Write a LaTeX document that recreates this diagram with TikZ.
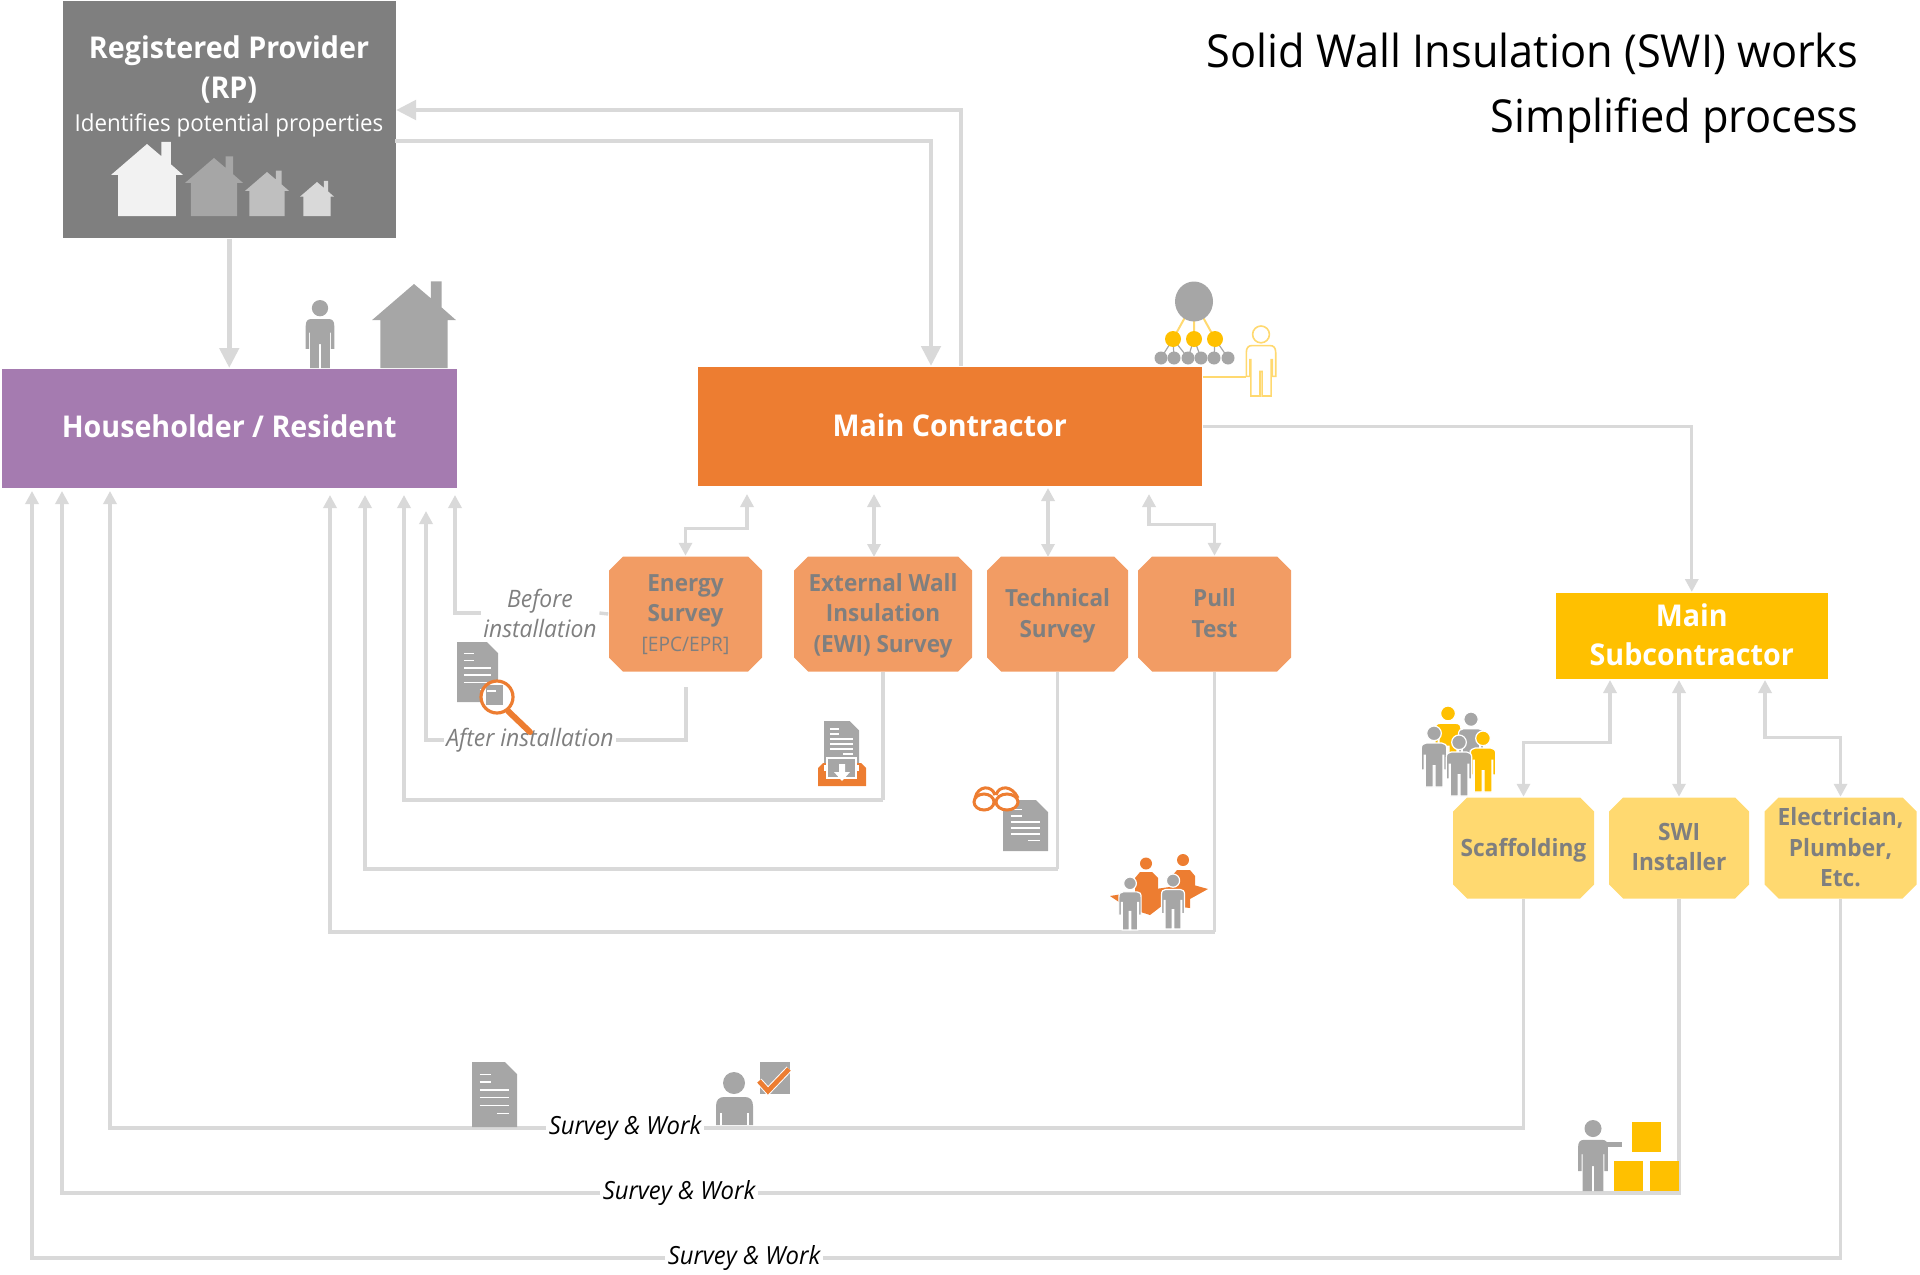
\documentclass[tikz,border=0pt]{standalone}
\usepackage{fontspec}
\setmainfont{Open Sans}[FakeStretch=0.955]
\usetikzlibrary{arrows.meta,shapes.misc}

\definecolor{rpgrey}{HTML}{7F7F7F}
\definecolor{hhpurple}{HTML}{A57BB0}
\definecolor{mcorange}{HTML}{ED7D31}
\definecolor{surveyorange}{HTML}{F29C64}
\definecolor{subyellow}{HTML}{FFC000}
\definecolor{tradeyellow}{HTML}{FFD970}
\definecolor{linegrey}{HTML}{D9D9D9}
\definecolor{icongrey}{HTML}{A6A6A6}

\tikzset{
  every picture/.style={line width=0.75pt},
  mainbox/.style={rectangle,inner sep=0pt,text=white,align=center,anchor=north west,font=\fontsize{15}{18}\selectfont\bfseries},
  octbox/.style={chamfered rectangle,chamfered rectangle xsep=3.5pt,chamfered rectangle ysep=3.5pt,inner sep=0pt,align=center,text depth=1pt,text=rpgrey,font=\fontsize{11.8}{15.2}\selectfont\bfseries},
  heavyline/.style={draw=linegrey,line width=2.4pt,-{Triangle[width=9.5pt,length=10pt]}},
  lightline/.style={draw=linegrey,line width=1.7pt},
  headend/.style={lightline,-{Triangle[width=6.5pt,length=6.5pt]}},
  bothend/.style={lightline,{Triangle[width=6.5pt,length=6.5pt]}-{Triangle[width=6.5pt,length=6.5pt]}},
  greylabel/.style={inner sep=1pt,align=center,text=rpgrey,font=\fontsize{12}{15}\selectfont\itshape},
  worklabel/.style={inner sep=1pt,text=black,font=\fontsize{12.5}{15}\selectfont\itshape},
  whiteedge/.style={fill=#1,draw=white,line width=0.6pt},
}

% x, base, eaves width, colour
\newcommand{\housesym}[4]{
  \fill[#4,shift={(#1,#2)},scale=#3/100] (-40,0) -- (-40,-57) -- (-50,-57) -- (0,-100) -- (20,-83) -- (20,-103) -- (33,-103) -- (33,-72) -- (50,-57) -- (40,-57) -- (40,0) -- cycle;
}
% x, base, height, path options
\newcommand{\personsym}[4]{
  \path[#4,shift={(#1,#2)},scale=#3/100] (0,-88) circle (12);
  \path[#4,shift={(#1,#2)},scale=#3/100] (-21,-62) .. controls (-21,-69) and (-18,-72) .. (-13,-72) -- (13,-72) .. controls (18,-72) and (21,-69) .. (21,-62) -- (21,-28) -- (16,-28) -- (16,-52) -- (14.5,-52) -- (14.5,0) -- (1.5,0) -- (1.5,-35) -- (-1.5,-35) -- (-1.5,0) -- (-14.5,0) -- (-14.5,-52) -- (-16,-52) -- (-16,-28) -- (-21,-28) -- cycle;
}
% left, top, width, height
\newcommand{\docsym}[4]{
  \fill[icongrey] (#1,#2) -- ({#1+#3-0.27*#3},#2) -- ({#1+#3},{#2+0.27*#3}) -- ({#1+#3},{#2+#4}) -- (#1,{#2+#4}) -- cycle;
  \draw[white,line width=0.7pt] ({#1+0.17*#3},{#2+0.19*#4}) -- ({#1+0.42*#3},{#2+0.19*#4}) ({#1+0.17*#3},{#2+0.31*#4}) -- ({#1+0.42*#3},{#2+0.31*#4}) ({#1+0.17*#3},{#2+0.43*#4}) -- ({#1+0.82*#3},{#2+0.43*#4}) ({#1+0.17*#3},{#2+0.55*#4}) -- ({#1+0.82*#3},{#2+0.55*#4}) ({#1+0.17*#3},{#2+0.67*#4}) -- ({#1+0.82*#3},{#2+0.67*#4}) ({#1+0.55*#3},{#2+0.79*#4}) -- ({#1+0.82*#3},{#2+0.79*#4});
}

\begin{document}
\begin{tikzpicture}[x=0.5pt,y=0.5pt,yscale=-1,xscale=1]
\useasboundingbox (0,0) rectangle (1920,1274);

% Boxes
\node (rp) [mainbox,fill=rpgrey,minimum width=166.5pt,minimum height=118.5pt] at (62,0) {};
\node (hh) [mainbox,fill=hhpurple,minimum width=227.5pt,minimum height=59.5pt,text depth=1.8pt] at (1,368) {Householder / Resident};
\node (mc) [mainbox,fill=mcorange,minimum width=252pt,minimum height=59.5pt,text depth=1.2pt] at (697,366) {Main Contractor};
\node (sub) [mainbox,fill=subyellow,minimum width=136pt,minimum height=43pt,text depth=1.2pt,font=\fontsize{15}{19.5}\selectfont\bfseries] at (1555,592) {Main\\Subcontractor};

\node (energy) [octbox,fill=surveyorange,minimum width=76.5pt,minimum height=57.5pt] at (685.5,614) {Energy\\Survey\\{\normalfont\fontsize{10}{15.2}\selectfont [EPC/EPR]}};
\node (ewi) [octbox,fill=surveyorange,minimum width=89pt,minimum height=57.5pt] at (883,614) {External Wall\\Insulation\\(EWI) Survey};
\node (tech) [octbox,fill=surveyorange,minimum width=70.5pt,minimum height=57.5pt] at (1057.5,614) {Technical\\Survey};
\node (pull) [octbox,fill=surveyorange,minimum width=76.5pt,minimum height=57.5pt] at (1214.5,614) {Pull\\Test};
\node (scaff) [octbox,fill=tradeyellow,minimum width=70.5pt,minimum height=50.5pt,font=\fontsize{11.9}{15.2}\selectfont\bfseries] at (1523.5,848) {Scaffolding};
\node (swi) [octbox,fill=tradeyellow,minimum width=70pt,minimum height=50.5pt,font=\fontsize{11.9}{15.2}\selectfont\bfseries] at (1679,848) {SWI\\Installer};
\node (trade) [octbox,fill=tradeyellow,minimum width=76pt,minimum height=50.5pt,font=\fontsize{11.9}{15.2}\selectfont\bfseries] at (1840.5,848) {Electrician,\\Plumber,\\Etc.};

% Text Node
\node (rptitle) [text=white,align=center,font=\fontsize{15}{20}\selectfont\bfseries] at (229,69) {Registered Provider\\(RP)};
\node (rpsub) [text=white,font=\fontsize{11.7}{15}\selectfont] at (229,125) {Identifies potential properties};
\node (title) [anchor=north east,inner sep=0pt,align=right,text=black,font=\fontsize{22.7}{32.5}\selectfont] at (1859,32) {Solid Wall Insulation (SWI) works\\Simplified process};
\node (before) [greylabel] at (540,613) {Before\\installation};
\node (after) [greylabel] at (530,740) {After installation};
\node (work1) [worklabel] at (625,1128) {Survey \& Work};
\node (work2) [worklabel] at (679,1193) {Survey \& Work};
\node (work3) [worklabel] at (744,1258) {Survey \& Work};

% Connector ends
\coordinate (rpin) at (396,110);
\coordinate (rpout) at (395,141);
\coordinate (mcin) at (931,366);
\coordinate (mcout) at (961,366);
\coordinate (mcenergy) at (747,494);
\coordinate (mcewi) at (874,494);
\coordinate (mctech) at (1048,488);
\coordinate (mcpull) at (1149,494);
\coordinate (ewitop) at (874,557);
\coordinate (techtop) at (1048,557);
\coordinate (energyoff) at (686,687);
\coordinate (hhbefore) at (455,495);
\coordinate (hhafter) at (426,511);
\coordinate (hhewi) at (404,495);
\coordinate (hhtech) at (365,495);
\coordinate (hhpull) at (330,495);
\coordinate (hhscaff) at (110,491);
\coordinate (hhswi) at (62,491);
\coordinate (hhtrade) at (32,491);
\coordinate (subscaff) at (1610,680);
\coordinate (subswi) at (1679,680);
\coordinate (subtrade) at (1765,680);
\coordinate (ewibend) at (883,800);
\coordinate (techbend) at (1057.5,869);
\coordinate (pullbend) at (1214.5,932);

%Straight Lines
\draw[heavyline] (rp.south) -- (hh.north);
\draw[heavyline] (mcout) |- (rpin);
\draw[heavyline] (rpout) -| (mcin);
\draw[headend] (mc.east) -| (sub.north);
\draw[bothend] (energy.north) -- ++(0,-27) -| (mcenergy);
\draw[bothend] (ewitop) -- (mcewi);
\draw[bothend] (techtop) -- (mctech);
\draw[bothend] (pull.north) -- ++(0,-31) -| (mcpull);
\draw[bothend] (scaff.north) -- ++(0,-54) -| (subscaff);
\draw[bothend] (swi.north) -- (subswi);
\draw[bothend] (trade.north) -- ++(0,-59) -| (subtrade);
\draw[lightline] (energy.west) -- (before.east);
\draw[headend] (before.west) -| (hhbefore);
\draw[lightline] (energyoff) |- (after.east);
\draw[headend] (after.west) -| (hhafter);
\draw[lightline] (ewi.south) -- (ewibend);
\draw[headend] (ewibend) -| (hhewi);
\draw[lightline] (tech.south) -- (techbend);
\draw[headend] (techbend) -| (hhtech);
\draw[lightline] (pull.south) -- (pullbend);
\draw[headend] (pullbend) -| (hhpull);
\draw[lightline] (scaff.south) |- (work1.east);
\draw[headend] (work1.west) -| (hhscaff);
\draw[lightline] (swi.south) |- (work2.east);
\draw[headend] (work2.west) -| (hhswi);
\draw[lightline] (trade.south) |- (work3.east);
\draw[headend] (work3.west) -| (hhtrade);

%Shape: Houses
\housesym{147}{216}{72}{white!95!black}
\housesym{214}{216}{58}{icongrey}
\housesym{267}{216}{44}{white!75!black}
\housesym{317}{216}{34}{linegrey}
\housesym{414}{368}{84}{icongrey}

%Shape: Householder
\personsym{320}{368}{68}{fill=icongrey}

%Shape: Organisation chart
\draw[tradeyellow,line width=1pt] (1194,301) -- (1173,339) (1194,301) -- (1194,339) (1194,301) -- (1215,339);
\draw[icongrey,line width=0.6pt] (1173,339) -- (1161,358) (1173,339) -- (1174,358) (1173,339) -- (1188,358) (1194,339) -- (1188,358) (1194,339) -- (1201,358) (1215,339) -- (1214,358) (1215,339) -- (1228,358);
\fill[icongrey] (1194,301.5) ellipse (19 and 20);
\foreach \ox in {1173,1194,1215} \fill[subyellow] (\ox,339) ellipse (8 and 8);
\foreach \ox in {1161,1174,1188,1201,1214,1228} \fill[icongrey] (\ox,358) ellipse (6.5 and 6.5);
\draw[tradeyellow,line width=1pt] (mc.north east |- 0,377) -- (1246,377);
\personsym{1261}{396}{70}{fill=white,draw=tradeyellow,line width=0.8pt}

%Shape: Document with magnifier
\docsym{457}{642}{41}{60}
\fill[white] (497,697) circle (15);
\begin{scope}
\clip (497,697) circle (15);
\fill[icongrey] (486,685) rectangle (503,705);
\draw[white,line width=0.7pt] (487,691) -- (496,691);
\end{scope}
\draw[mcorange,line width=1.6pt] (497,697) circle (16);
\draw[mcorange,line width=3pt,line cap=round] (508,711) -- (530,732);

%Shape: Document in tray
\fill[mcorange] (818,786) -- (818,768) -- (823,763) -- (861,763) -- (866,768) -- (866,786) -- cycle;
\fill[white] (824,765) rectangle (859,771);
\docsym{824}{721}{35}{42}
\fill[icongrey,draw=white,line width=0.6pt] (827,758) rectangle (856,778);
\fill[white] (839,764) -- (845,764) -- (845,772) -- (850,772) -- (842,781) -- (834,772) -- (839,772) -- cycle;

%Shape: Document with glasses
\docsym{1003}{800}{45}{51}
\draw[mcorange,line width=1.5pt,fill=white] (984,802) ellipse (10 and 8);
\draw[mcorange,line width=1.5pt,fill=white] (1007,802) ellipse (11 and 8);
\draw[mcorange,line width=1.5pt] (975,798) .. controls (978,785) and (992,785) .. (995,795) (996,795) .. controls (999,785) and (1012,785) .. (1018,798);

%Shape: Meeting
\fill[mcorange] (1146,863.5) circle (6) (1183,860) circle (6);
\fill[mcorange] (1135,895) -- (1135,878) -- (1140,872) -- (1152,872) -- (1158,878) -- (1158,895) -- cycle;
\fill[mcorange] (1172,893) -- (1172,876) -- (1177,870) -- (1190,870) -- (1195,876) -- (1195,893) -- cycle;
\fill[mcorange] (1110,896) -- (1135,892) -- (1190,884) -- (1208,889) -- (1190,899) -- (1190,908) -- (1163,905) -- (1150,915) -- (1128,908) -- cycle;
\personsym{1130}{930}{53}{whiteedge=icongrey}
\personsym{1173}{929}{55}{whiteedge=icongrey}

%Shape: Team
\personsym{1448}{768}{62}{whiteedge=subyellow}
\personsym{1471}{772}{60}{whiteedge=icongrey}
\personsym{1483}{792}{61}{whiteedge=subyellow}
\personsym{1434}{787}{61}{whiteedge=icongrey}
\personsym{1459}{796}{61}{whiteedge=icongrey}

%Shape: Installer with boxes
\personsym{1593}{1191}{71}{fill=icongrey}
\fill[icongrey] (1600,1142) rectangle (1622,1147);
\fill[subyellow] (1632,1122) rectangle (1661,1152);
\fill[subyellow] (1614,1161) rectangle (1643,1191);
\fill[subyellow] (1650,1161) rectangle (1679,1191);

%Shape: Document of survey and work
\docsym{472}{1062}{45}{65}

%Shape: Bust with tick
\fill[icongrey] (734,1083) circle (11);
\fill[icongrey] (716,1125) -- (716,1106) .. controls (716,1100) and (719,1097) .. (724,1097) -- (745,1097) .. controls (750,1097) and (753,1100) .. (753,1106) -- (753,1125) -- cycle;
\draw[white,line width=0.7pt] (721,1113) -- (721,1125) (748,1113) -- (748,1125);
\fill[icongrey] (760,1062) rectangle (790,1094);
\draw[white,line width=3.4pt] (759,1081) -- (768,1091) -- (789,1069);
\draw[mcorange,line width=2.4pt] (759,1081) -- (768,1091) -- (789,1069);

\end{tikzpicture}
\end{document}
